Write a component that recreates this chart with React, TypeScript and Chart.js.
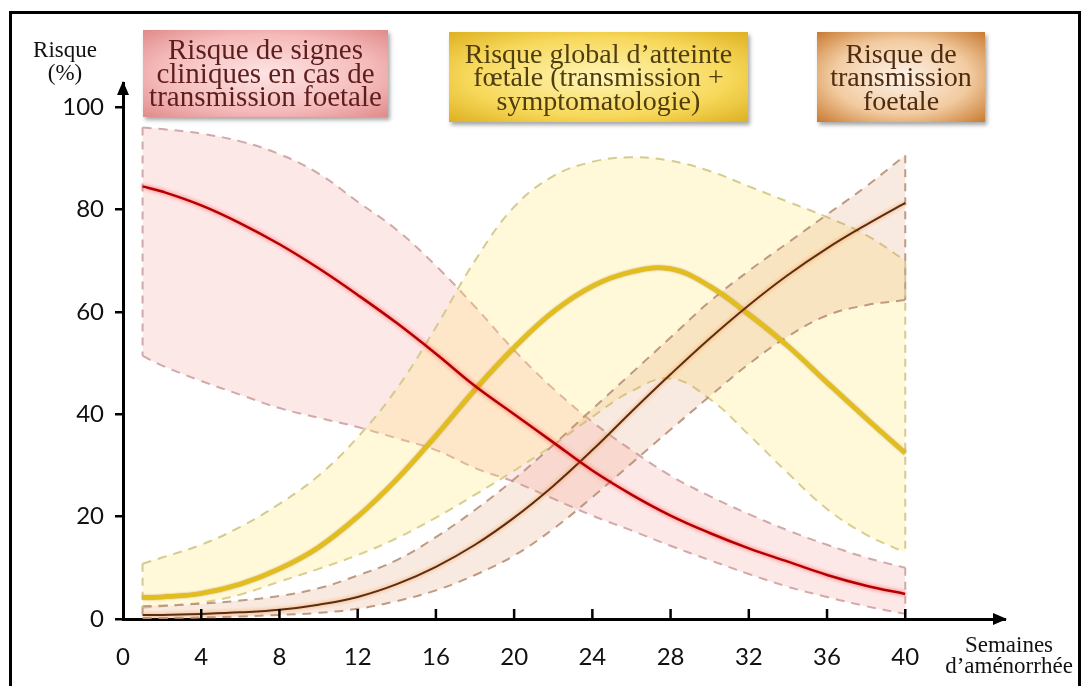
import React, { useEffect, useRef } from "react";
import { Chart, registerables } from "chart.js";

Chart.register(...registerables);

// ---- Data (weeks of amenorrhea, risk %) ----
const weeks = [1, 2, 4, 6, 8, 10, 12, 14, 16, 18, 20, 22, 24, 26, 28, 30, 32, 34, 36, 38, 40];

const redSigns = [84.5, 83.5, 80.8, 77.3, 73.2, 68.5, 63.3, 57.8, 51.8, 45.5, 40, 34.5, 29, 24.3, 20.2, 16.8, 13.8, 11.2, 8.6, 6.5, 4.9];
const redUpper = [96, 95.7, 94.8, 93.3, 90.8, 87, 81.5, 76, 69, 61, 52.5, 45, 38.5, 33, 28, 24, 20.5, 17.3, 14.5, 12, 10];
const redLower = [51.4, 49.5, 46.5, 43.8, 41.2, 39.3, 37.5, 35.3, 33, 29.5, 26.8, 23.5, 20.2, 17.3, 14.3, 11.5, 8.8, 6.3, 4.3, 2.5, 1.0];

const yellowGlobal = [4.2, 4.3, 5.0, 6.8, 9.8, 14, 20, 27.3, 35.8, 44.8, 53, 60, 65, 67.8, 68.4, 65, 59.5, 53.3, 46.2, 39.2, 32.4];
const yellowUpper = [10.8, 12, 14.5, 18, 22.5, 28, 35.5, 45, 57, 70, 80.5, 86.5, 89.3, 90.2, 89.5, 87.5, 84.5, 81.5, 78.5, 75, 70];
const yellowLower = [2.2, 2.5, 3.2, 4.8, 7.3, 9.8, 12.5, 15.8, 19.8, 24.3, 29, 34, 39.5, 44.5, 47, 43, 36, 28.5, 21.5, 16.5, 13];

const brownTrans = [0.8, 0.8, 1.0, 1.3, 1.8, 2.8, 4.3, 6.8, 10.2, 14.5, 19.8, 26, 33, 40.5, 47.8, 54.8, 61.3, 67.2, 72.4, 77, 81.3];
const brownUpper = [2.5, 2.6, 3, 3.6, 4.5, 6, 8.5, 11.5, 16, 21.3, 27.3, 34, 41, 48, 55, 62, 68, 73.5, 79, 84.5, 90.6];
const brownLower = [0.2, 0.2, 0.3, 0.5, 0.8, 1.2, 2, 3.5, 5.6, 8.6, 12.4, 17.6, 23.8, 30.4, 37, 43.5, 49.8, 55.2, 59.3, 61.3, 62.3];

const xTicks = [0, 4, 8, 12, 16, 20, 24, 28, 32, 36, 40];
const yTicks = [0, 20, 40, 60, 80, 100];
const xMax = 45.1;
const yMax = 104.7;

const labelRed = ["Risque de signes", "cliniques en cas de", "transmission foetale"];
const labelYellow = ["Risque global d\u2019atteinte", "f\u0153tale (transmission +", "symptomatologie)"];
const labelBrown = ["Risque de", "transmission", "foetale"];

const pts = (ys: number[]) => ys.map((y, i) => ({ x: weeks[i], y }));
const last = weeks.length - 1;
const edge = (w: number, a: number, b: number) => [
  { x: w, y: a },
  { x: w, y: b },
];

const DASH = [9, 7];
const TENSION = 0.4;

const glowPlugin = {
  id: "glow",
  beforeDatasetDraw(chart: any, args: any) {
    const ds = chart.data.datasets[args.index];
    if (ds.glow) {
      chart.ctx.save();
      chart.ctx.shadowColor = ds.glow;
      chart.ctx.shadowBlur = ds.glowBlur || 4;
    }
  },
  afterDatasetDraw(chart: any, args: any) {
    const ds = chart.data.datasets[args.index];
    if (ds.glow) chart.ctx.restore();
  },
};

const axisDecor = {
  id: "axisDecor",
  afterDraw(chart: any) {
    const { ctx, chartArea: ca, scales } = chart;
    const xs = scales.x;
    ctx.save();
    ctx.strokeStyle = "#000";
    ctx.fillStyle = "#000";
    ctx.lineWidth = 2.5;
    xTicks.forEach((t) => {
      if (t === 0) return;
      const px = xs.getPixelForValue(t);
      ctx.beginPath();
      ctx.moveTo(px, ca.bottom);
      ctx.lineTo(px, ca.bottom - 10);
      ctx.stroke();
    });
    ctx.beginPath();
    ctx.moveTo(ca.right + 2, ca.bottom);
    ctx.lineTo(ca.right - 12, ca.bottom - 6);
    ctx.lineTo(ca.right - 12, ca.bottom + 6);
    ctx.closePath();
    ctx.fill();
    ctx.beginPath();
    ctx.moveTo(ca.left, ca.top - 2);
    ctx.lineTo(ca.left - 6, ca.top + 12);
    ctx.lineTo(ca.left + 6, ca.top + 12);
    ctx.closePath();
    ctx.fill();
    ctx.restore();
  },
};

function ChartCanvas() {
  const ref = useRef<HTMLCanvasElement | null>(null);
  useEffect(() => {
    if (!ref.current) return;
    const band = (data: any, color: string, fill: any, bg: string, order: number) => ({
      data,
      borderColor: color,
      borderWidth: 2,
      borderDash: DASH,
      backgroundColor: bg,
      fill,
      pointRadius: 0,
      tension: TENSION,
      order,
    });
    const edgeDs = (data: any, color: string) => ({
      data,
      borderColor: color,
      borderWidth: 2,
      borderDash: [8, 6],
      fill: false,
      pointRadius: 0,
      tension: 0,
      order: 7,
    });
    const solid = (data: any, color: string, width: number, order: number, glow: string, blur: number) =>
      ({
        data,
        borderColor: color,
        borderWidth: width,
        fill: false,
        pointRadius: 0,
        tension: TENSION,
        order,
        glow,
        glowBlur: blur,
      } as any);
    const redDash = "rgba(205,165,165,0.95)";
    const yellowDash = "rgba(210,200,140,0.95)";
    const brownDash = "rgba(185,150,125,0.95)";

    const chart = new Chart(ref.current, {
      type: "line",
      data: {
        datasets: [
          band(pts(redUpper), redDash, "+1", "rgba(248,150,150,0.22)", 10),
          band(pts(redLower), redDash, false, "transparent", 10),
          band(pts(yellowUpper), yellowDash, "+1", "rgba(255,228,110,0.26)", 9),
          band(pts(yellowLower), yellowDash, false, "transparent", 9),
          band(pts(brownUpper), brownDash, "+1", "rgba(220,140,90,0.18)", 8),
          band(pts(brownLower), brownDash, false, "transparent", 8),
          edgeDs(edge(weeks[0], redUpper[0], redLower[0]), redDash),
          edgeDs(edge(weeks[last], redUpper[last], redLower[last]), redDash),
          edgeDs(edge(weeks[0], yellowUpper[0], yellowLower[0]), yellowDash),
          edgeDs(edge(weeks[last], yellowUpper[last], yellowLower[last]), yellowDash),
          edgeDs(edge(weeks[0], brownUpper[0], brownLower[0]), brownDash),
          edgeDs(edge(weeks[last], brownUpper[last], brownLower[last]), brownDash),
          solid(pts(yellowGlobal), "#e3bd1e", 4.5, 2, "rgba(150,115,0,0.7)", 2),
          solid(pts(brownTrans), "#5e2c0e", 2, 1, "rgba(235,145,60,0.9)", 4),
          solid(pts(redSigns), "#b30000", 2.5, 0, "rgba(255,70,70,0.9)", 4),
        ],
      },
      options: {
        animation: false,
        responsive: false,
        maintainAspectRatio: false,
        layout: { padding: { left: 0, top: 83, right: 81, bottom: 0 } },
        plugins: { legend: { display: false }, tooltip: { enabled: false } },
        scales: {
          x: {
            type: "linear",
            min: 0,
            max: xMax,
            afterBuildTicks: (s: any) => {
              s.ticks = xTicks.map((v) => ({ value: v }));
            },
            afterFit: (s: any) => {
              s.height = 67;
            },
            grid: { display: true, drawOnChartArea: false, drawTicks: false },
            border: { display: true, color: "#000", width: 3 },
            ticks: {
              color: "#111",
              font: { family: "Lato", size: 24 },
              padding: 24,
              maxRotation: 0,
              autoSkip: false,
            },
          },
          y: {
            type: "linear",
            min: 0,
            max: yMax,
            afterBuildTicks: (s: any) => {
              s.ticks = yTicks.map((v) => ({ value: v }));
            },
            afterFit: (s: any) => {
              s.width = 123;
            },
            grid: {
              display: true,
              drawOnChartArea: false,
              drawTicks: true,
              tickLength: 8,
              color: "#000",
              lineWidth: 2.5,
            },
            border: { display: true, color: "#000", width: 3 },
            ticks: {
              color: "#111",
              font: { family: "Lato", size: 24 },
              padding: 11,
              autoSkip: false,
            },
          },
        },
      },
      plugins: [glowPlugin, axisDecor],
    });
    return () => chart.destroy();
  }, []);
  return (
    <canvas
      ref={ref}
      width={1086}
      height={686}
      style={{ position: "absolute", left: 0, top: 0, width: 1086, height: 686 }}
    />
  );
}

const serif = '"Liberation Serif", "Times New Roman", serif';

function LegendBox(props: {
  left: number;
  top: number;
  width: number;
  height: number;
  bg: string;
  color: string;
  lines: string[];
  size: number;
}) {
  const { left, top, width, height, bg, color, lines, size } = props;
  return (
    <div
      style={{
        position: "absolute",
        left,
        top,
        width,
        height,
        background: bg,
        color,
        display: "flex",
        flexDirection: "column",
        alignItems: "center",
        justifyContent: "center",
        fontFamily: serif,
        fontSize: size,
        lineHeight: "23.5px",
        boxShadow: "2px 3px 4px rgba(0,0,0,0.35)",
        textAlign: "center",
        whiteSpace: "nowrap",
        zIndex: 2,
      }}
    >
      {lines.map((l, i) => (
        <div key={i}>{l}</div>
      ))}
    </div>
  );
}

export default function App() {
  return (
    <div
      style={{
        position: "fixed",
        left: 0,
        top: 0,
        width: 1086,
        height: 686,
        overflow: "hidden",
        background: "#fff",
      }}
    >
      <div
        style={{
          position: "absolute",
          left: 9,
          top: 11,
          width: 1066,
          height: 720,
          border: "3px solid #000",
          borderBottom: "none",
        }}
      />
      <ChartCanvas />
      <LegendBox
        left={143}
        top={30}
        width={245}
        height={87}
        size={29}
        bg="radial-gradient(ellipse at center, #fde4e4 0%, #f5baba 62%, #e08a8a 100%)"
        color="#5e1d1d"
        lines={labelRed}
      />
      <LegendBox
        left={449}
        top={32}
        width={299}
        height={90}
        size={28}
        bg="radial-gradient(ellipse at center, #fff6b8 0%, #f7d85a 62%, #ddb020 100%)"
        color="#4f3d0e"
        lines={labelYellow}
      />
      <LegendBox
        left={817}
        top={32}
        width={168}
        height={90}
        size={28}
        bg="radial-gradient(ellipse at center, #fdf3ea 0%, #f2cba0 58%, #c87a30 100%)"
        color="#4f2c10"
        lines={labelBrown}
      />
      <div
        style={{
          position: "absolute",
          left: 25,
          top: 38,
          width: 80,
          textAlign: "center",
          fontFamily: serif,
          fontSize: 23,
          lineHeight: "23px",
          color: "#111",
          zIndex: 2,
        }}
      >
        <div>Risque</div>
        <div>(%)</div>
      </div>
      <div
        style={{
          position: "absolute",
          left: 936,
          top: 634,
          width: 146,
          textAlign: "center",
          fontFamily: serif,
          fontSize: 23,
          lineHeight: "21px",
          color: "#111",
          zIndex: 2,
        }}
      >
        <div>Semaines</div>
        <div>d{"\u2019"}aménorrhée</div>
      </div>
    </div>
  );
}
